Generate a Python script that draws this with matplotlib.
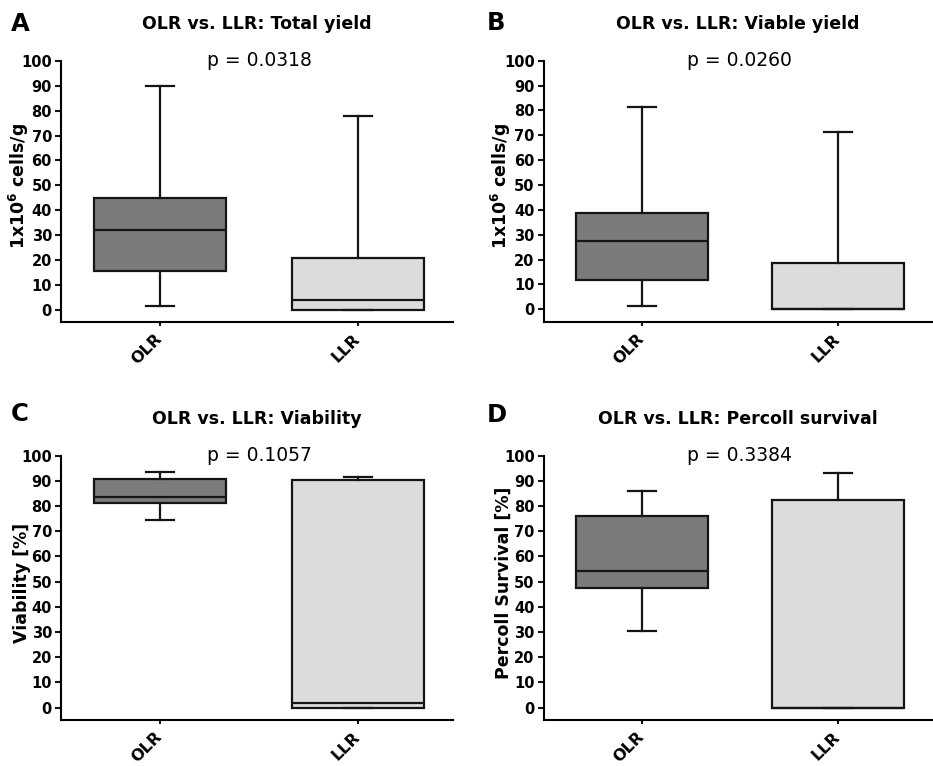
""" OLR vs. LLR box plots for yield, viability and Percoll survival (four panels). """

import matplotlib.pyplot as plt

# Group names on the x axis
groups = ['OLR', 'LLR']

# Box statistics per group: [whisker low, Q1, median, Q3, whisker high]
total_olr = [1.5, 15.6, 32.1, 45.0, 90.1]
total_llr = [0.0, 0.0, 3.9, 20.7, 78.0]
viable_olr = [1.3, 11.9, 27.6, 38.6, 81.3]
viable_llr = [0.0, 0.0, 0.0, 18.6, 71.5]
viability_olr = [74.6, 81.2, 83.6, 90.6, 93.4]
viability_llr = [0.0, 0.0, 1.7, 90.5, 91.4]
percoll_olr = [30.6, 47.6, 54.2, 76.0, 86.1]
percoll_llr = [0.0, 0.0, 0.0, 82.4, 93.3]

# Panel texts
panel_letters = ['A', 'B', 'C', 'D']
titles = ['OLR vs. LLR: Total yield', 'OLR vs. LLR: Viable yield',
          'OLR vs. LLR: Viability', 'OLR vs. LLR: Percoll survival']
p_values = ['p = 0.0318', 'p = 0.0260', 'p = 0.1057', 'p = 0.3384']
y_labels = [r'1x10$\mathbf{^6}$ cells/g', r'1x10$\mathbf{^6}$ cells/g',
            'Viability [%]', 'Percoll Survival [%]']
y_ticks = list(range(0, 101, 10))

panel_data = [(total_olr, total_llr), (viable_olr, viable_llr),
              (viability_olr, viability_llr), (percoll_olr, percoll_llr)]

box_colors = ['#7b7b7b', '#dcdcdc']
edge = '#151515'

fig = plt.figure(figsize=(9.33, 7.66), dpi=100)

# axes rectangles in figure fractions [left, bottom, width, height]
rects = [[0.0654, 0.5796, 0.4201, 0.3408],
         [0.5828, 0.5800, 0.4162, 0.3408],
         [0.0654, 0.0597, 0.4201, 0.3454],
         [0.5828, 0.0597, 0.4162, 0.3454]]
letter_pos = [(0.012, 0.984), (0.522, 0.986), (0.012, 0.475), (0.522, 0.474)]
label_x = [-0.076, -0.08, -0.076, -0.079]

for i in range(4):
    ax = fig.add_axes(rects[i])
    stats = []
    for name, vals in zip(groups, panel_data[i]):
        stats.append({'label': name, 'whislo': vals[0], 'q1': vals[1], 'med': vals[2],
                      'q3': vals[3], 'whishi': vals[4], 'fliers': []})
    bp = ax.bxp(stats, positions=[1, 2], widths=0.67, capwidths=0.14,
                patch_artist=True, showfliers=False,
                boxprops=dict(edgecolor=edge, linewidth=1.6),
                medianprops=dict(color=edge, linewidth=1.6),
                whiskerprops=dict(color=edge, linewidth=1.6),
                capprops=dict(color=edge, linewidth=1.6))
    for patch, c in zip(bp['boxes'], box_colors):
        patch.set_facecolor(c)

    ax.set_xlim(0.5, 2.48)
    ax.set_ylim(-5, 100)
    ax.set_yticks(y_ticks)
    ax.set_xticks([1, 2])
    ax.set_xticklabels(groups, rotation=45, ha='right', va='center',
                       rotation_mode='anchor', fontsize=11.5, fontweight='bold')
    for lab in ax.get_yticklabels():
        lab.set_fontweight('bold')
        lab.set_fontsize(10.5)
    ax.tick_params(axis='y', width=1.5, length=4.5, pad=2, color=edge)
    ax.tick_params(axis='x', width=1.5, length=3, pad=7.5, color=edge)
    ax.spines['top'].set_visible(False)
    ax.spines['right'].set_visible(False)
    ax.spines['left'].set_linewidth(1.5)
    ax.spines['bottom'].set_linewidth(1.5)

    ax.set_ylabel(y_labels[i], fontsize=12.5, fontweight='bold')
    ax.yaxis.set_label_coords(label_x[i], 0.52)
    ax.set_title(titles[i], fontsize=12.5, fontweight='bold', pad=23)
    ax.text(1.5, 100, p_values[i], ha='center', va='center', fontsize=13.5)

    fig.text(letter_pos[i][0], letter_pos[i][1], panel_letters[i],
             fontsize=17.5, fontweight='bold', va='top', ha='left')

fig.savefig('out.png', dpi=100)
